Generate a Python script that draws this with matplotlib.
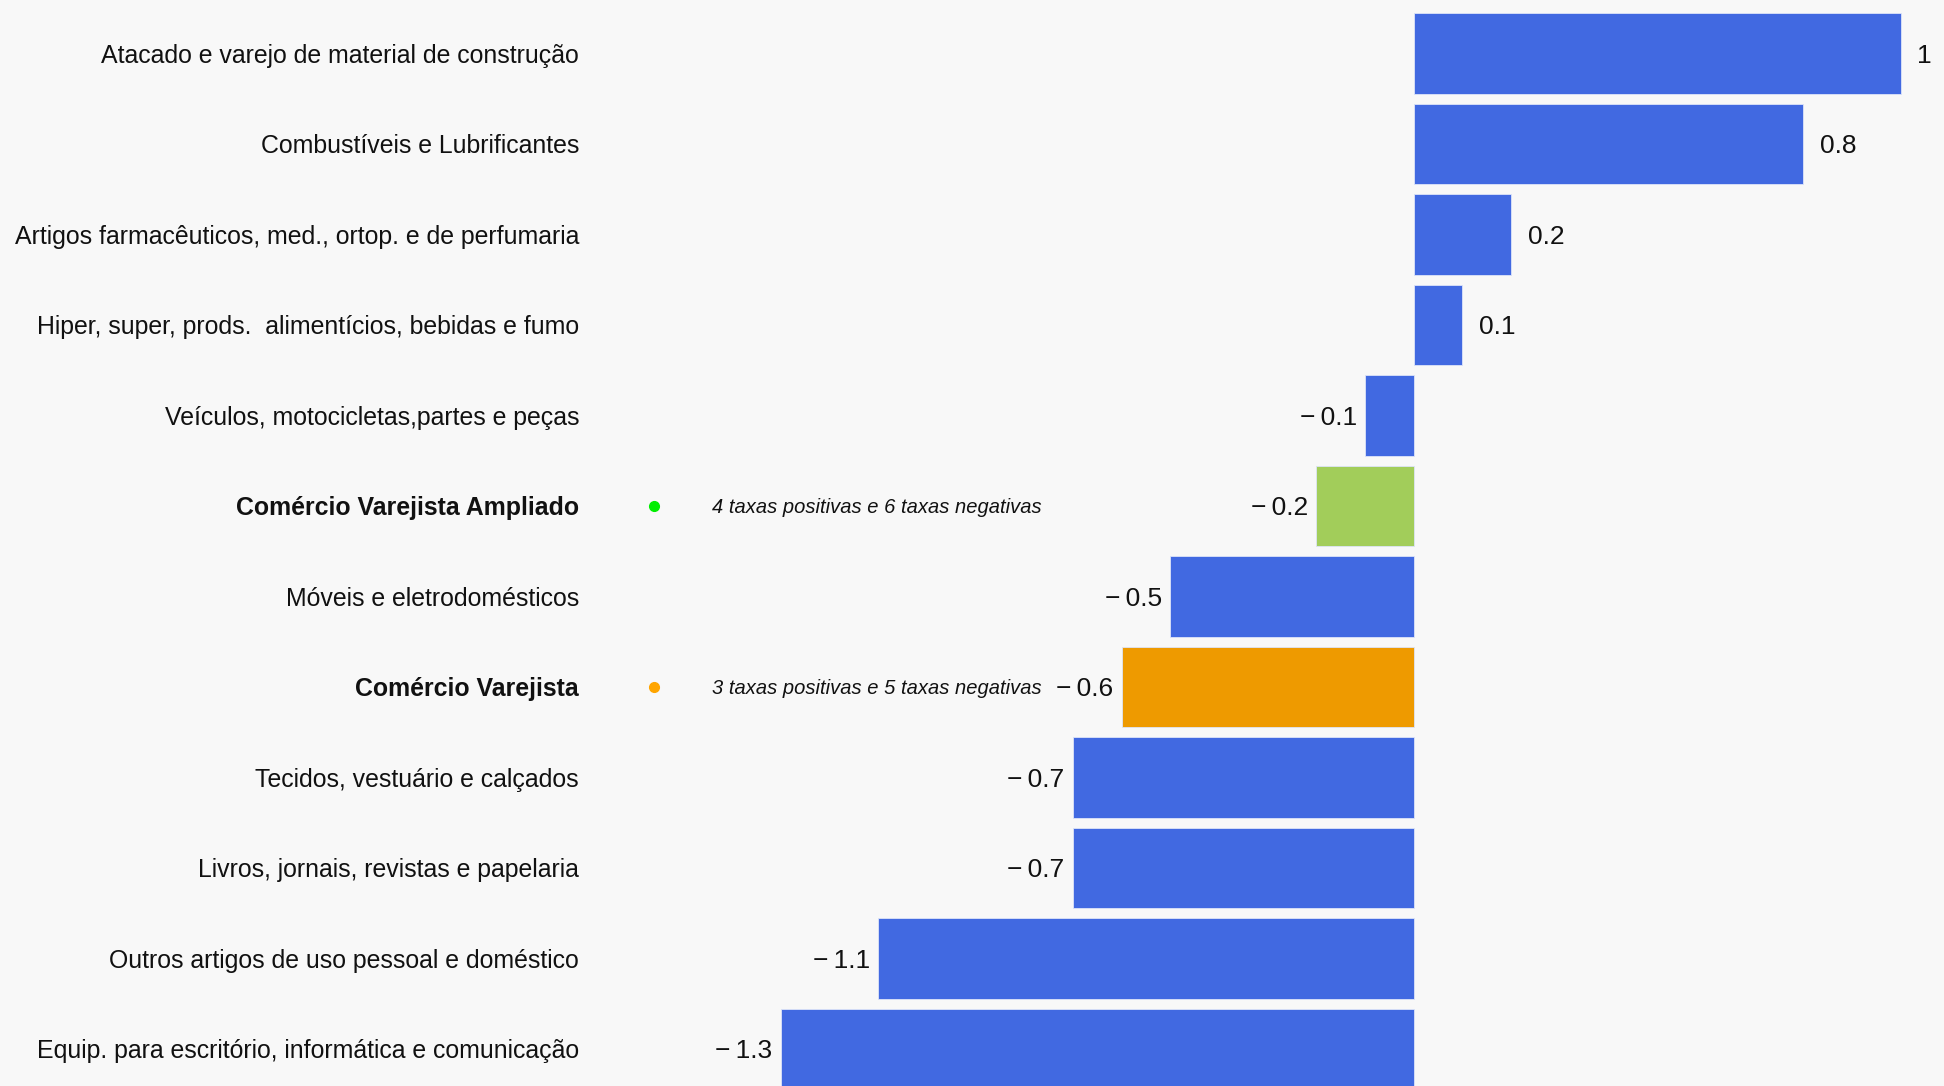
import numpy as np
import matplotlib
matplotlib.use("Agg")
import matplotlib.pyplot as plt

plt.rcParams['font.family'] = ['Liberation Sans', 'DejaVu Sans']

# Data
categories = [
    "Atacado e varejo de material de construção",
    "Combustíveis e Lubrificantes",
    "Artigos farmacêuticos, med., ortop. e de perfumaria",
    "Hiper, super, prods.  alimentícios, bebidas e fumo",
    "Veículos, motocicletas,partes e peças",
    "Comércio Varejista Ampliado",
    "Móveis e eletrodomésticos",
    "Comércio Varejista",
    "Tecidos, vestuário e calçados",
    "Livros, jornais, revistas e papelaria",
    "Outros artigos de uso pessoal e doméstico",
    "Equip. para escritório, informática e comunicação",
]
values = [1.0, 0.8, 0.2, 0.1, -0.1, -0.2, -0.5, -0.6, -0.7, -0.7, -1.1, -1.3]
highlight = {
    "Comércio Varejista Ampliado": ("#A2CD5A", "#00EE00", "4 taxas positivas e 6 taxas negativas"),
    "Comércio Varejista": ("#EE9A00", "#FFA500", "3 taxas positivas e 5 taxas negativas"),
}

bg = "#F8F8F8"
blue = "#4169E1"

fig = plt.figure(figsize=(19.44, 10.86), dpi=100, facecolor=bg)
ax = fig.add_axes([0, 0, 1, 1])
ax.set_facecolor(bg)

y = np.arange(len(categories))
colors = [highlight[c][0] if c in highlight else blue for c in categories]
ax.barh(y, values, height=0.89, color=colors, edgecolor="#DDE4F8", linewidth=0.6)

ax.set_xlim(-2.903, 1.089)
ax.set_ylim(11.41, -0.59)
ax.axis("off")

for i, (cat, v) in enumerate(zip(categories, values)):
    bold = cat in highlight
    ax.text(-1.714, i, cat, ha="right", va="center_baseline", fontsize=17.9,
            fontweight="bold" if bold else "normal", color="#111111")
    if v >= 0:
        lbl = f"{v:g}"
        ax.annotate(lbl, (v, i), xytext=(12, 0), textcoords="offset points",
                    ha="left", va="center_baseline", fontsize=19, color="#111111")
    else:
        lbl = "\u2212\u2009" + f"{abs(v):g}"
        ax.annotate(lbl, (v, i), xytext=(-6, 0), textcoords="offset points",
                    ha="right", va="center_baseline", fontsize=19, color="#111111")
    if cat in highlight:
        ax.plot(-1.559, i, "o", color=highlight[cat][1], markersize=7)
        ax.text(-1.441, i, highlight[cat][2], ha="left", va="center_baseline",
                fontsize=14.5, style="italic", color="#111111")

fig.savefig("out.png", dpi=100, facecolor=bg)
